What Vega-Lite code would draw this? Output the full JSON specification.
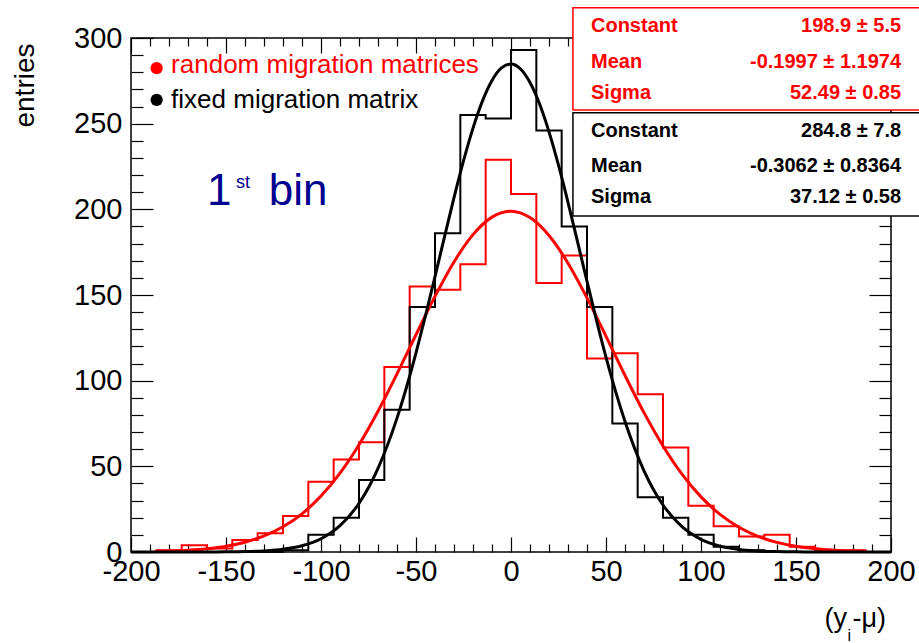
{
  "$schema": "https://vega.github.io/schema/vega-lite/v6.json",
  "width": 760,
  "height": 514,
  "autosize": {"type": "none"},
  "padding": {"left": 131, "top": 38, "right": 28, "bottom": 91},
  "background": "white",
  "config": {
    "view": {"stroke": "black", "strokeWidth": 1.5},
    "font": "Liberation Sans",
    "axis": {"domain": false, "grid": false, "tickColor": "black", "tickWidth": 1.2, "labelColor": "black", "labelFont": "Liberation Sans", "titleFont": "Liberation Sans", "titleColor": "black", "titleFontWeight": "normal", "labelFlush": false, "labelOverlap": false, "labelBound": false}
  },
  "datasets": {
    "red_hist": [
      {"bin_low": -200, "entries": 0}, {"bin_low": -186.667, "entries": 1}, {"bin_low": -173.333, "entries": 4}, {"bin_low": -160, "entries": 2},
      {"bin_low": -146.667, "entries": 7}, {"bin_low": -133.333, "entries": 11}, {"bin_low": -120, "entries": 21}, {"bin_low": -106.667, "entries": 41},
      {"bin_low": -93.333, "entries": 54}, {"bin_low": -80, "entries": 64}, {"bin_low": -66.667, "entries": 108}, {"bin_low": -53.333, "entries": 155},
      {"bin_low": -40, "entries": 153}, {"bin_low": -26.667, "entries": 168}, {"bin_low": -13.333, "entries": 229}, {"bin_low": 0, "entries": 209},
      {"bin_low": 13.333, "entries": 157}, {"bin_low": 26.667, "entries": 173}, {"bin_low": 40, "entries": 113}, {"bin_low": 53.333, "entries": 116},
      {"bin_low": 66.667, "entries": 92}, {"bin_low": 80, "entries": 61}, {"bin_low": 93.333, "entries": 27}, {"bin_low": 106.667, "entries": 15},
      {"bin_low": 120, "entries": 9}, {"bin_low": 133.333, "entries": 10}, {"bin_low": 146.667, "entries": 3}, {"bin_low": 160, "entries": 1},
      {"bin_low": 173.333, "entries": 1}, {"bin_low": 186.667, "entries": 0}, {"bin_low": 200, "entries": 0}
    ],
    "black_hist": [
      {"bin_low": -200, "entries": 0}, {"bin_low": -186.667, "entries": 0}, {"bin_low": -173.333, "entries": 0}, {"bin_low": -160, "entries": 0},
      {"bin_low": -146.667, "entries": 0}, {"bin_low": -133.333, "entries": 0}, {"bin_low": -120, "entries": 1}, {"bin_low": -106.667, "entries": 10},
      {"bin_low": -93.333, "entries": 20}, {"bin_low": -80, "entries": 42}, {"bin_low": -66.667, "entries": 83}, {"bin_low": -53.333, "entries": 143},
      {"bin_low": -40, "entries": 186}, {"bin_low": -26.667, "entries": 255}, {"bin_low": -13.333, "entries": 253}, {"bin_low": 0, "entries": 293},
      {"bin_low": 13.333, "entries": 246}, {"bin_low": 26.667, "entries": 190}, {"bin_low": 40, "entries": 143}, {"bin_low": 53.333, "entries": 75},
      {"bin_low": 66.667, "entries": 32}, {"bin_low": 80, "entries": 20}, {"bin_low": 93.333, "entries": 10}, {"bin_low": 106.667, "entries": 3},
      {"bin_low": 120, "entries": 1}, {"bin_low": 133.333, "entries": 0}, {"bin_low": 146.667, "entries": 0}, {"bin_low": 160, "entries": 0},
      {"bin_low": 173.333, "entries": 0}, {"bin_low": 186.667, "entries": 0}, {"bin_low": 200, "entries": 0}
    ],
    "red_fit": [
      {"x": -186, "f": 0.38}, {"x": -180, "f": 0.56}, {"x": -170, "f": 1.06}, {"x": -160, "f": 1.93}, {"x": -150, "f": 3.39},
      {"x": -140, "f": 5.73}, {"x": -130, "f": 9.35}, {"x": -120, "f": 14.7}, {"x": -110, "f": 22.3}, {"x": -100, "f": 32.63},
      {"x": -90, "f": 46.05}, {"x": -80, "f": 62.63}, {"x": -70, "f": 82.16}, {"x": -60, "f": 103.94}, {"x": -50, "f": 126.82},
      {"x": -40, "f": 149.19}, {"x": -30, "f": 169.29}, {"x": -20, "f": 185.24}, {"x": -10, "f": 195.46}, {"x": 0, "f": 198.9},
      {"x": 10, "f": 195.18}, {"x": 20, "f": 184.71}, {"x": 30, "f": 168.57}, {"x": 40, "f": 148.33}, {"x": 50, "f": 125.9},
      {"x": 60, "f": 103.05}, {"x": 70, "f": 81.33}, {"x": 80, "f": 61.9}, {"x": 90, "f": 45.43}, {"x": 100, "f": 32.16},
      {"x": 110, "f": 21.96}, {"x": 120, "f": 14.45}, {"x": 130, "f": 9.17}, {"x": 140, "f": 5.62}, {"x": 150, "f": 3.32},
      {"x": 160, "f": 1.89}, {"x": 170, "f": 1.04}, {"x": 180, "f": 0.55}, {"x": 186, "f": 0.37}
    ],
    "black_fit": [
      {"x": -200, "f": 0}, {"x": -180, "f": 0}, {"x": -160, "f": 0.03}, {"x": -150, "f": 0.08}, {"x": -140, "f": 0.24},
      {"x": -130, "f": 0.64}, {"x": -120, "f": 1.57}, {"x": -110, "f": 3.61}, {"x": -100, "f": 7.73}, {"x": -90, "f": 15.36},
      {"x": -80, "f": 28.41}, {"x": -70, "f": 48.85}, {"x": -60, "f": 78.15}, {"x": -55, "f": 96.18}, {"x": -50, "f": 116.23},
      {"x": -45, "f": 137.93}, {"x": -40, "f": 160.77}, {"x": -35, "f": 183.98}, {"x": -30, "f": 206.8}, {"x": -25, "f": 228.24},
      {"x": -20, "f": 247.4}, {"x": -15, "f": 263.32}, {"x": -10, "f": 275.24}, {"x": -5, "f": 282.53}, {"x": 0, "f": 284.79},
      {"x": 5, "f": 281.91}, {"x": 10, "f": 274.04}, {"x": 15, "f": 261.61}, {"x": 20, "f": 245.24}, {"x": 25, "f": 225.76},
      {"x": 30, "f": 204.11}, {"x": 35, "f": 181.19}, {"x": 40, "f": 157.98}, {"x": 45, "f": 135.25}, {"x": 50, "f": 113.72},
      {"x": 55, "f": 93.9}, {"x": 60, "f": 76.13}, {"x": 70, "f": 47.39}, {"x": 80, "f": 27.43}, {"x": 90, "f": 14.78},
      {"x": 100, "f": 7.4}, {"x": 110, "f": 3.45}, {"x": 120, "f": 1.49}, {"x": 130, "f": 0.6}, {"x": 140, "f": 0.23},
      {"x": 150, "f": 0.08}, {"x": 160, "f": 0.03}, {"x": 180, "f": 0}, {"x": 200, "f": 0}
    ]
  },
  "resolve": {"axis": {"x": "independent", "y": "independent"}},
  "layer": [
    {
      "data": {"name": "red_hist"},
      "mark": {"type": "line", "interpolate": "step-after", "color": "#ff0000", "strokeWidth": 2},
      "encoding": {
        "x": {"field": "bin_low", "type": "quantitative", "scale": {"domain": [-200, 200], "nice": false, "zero": false},
          "axis": {"orient": "bottom", "values": [-200, -150, -100, -50, 0, 50, 100, 150, 200], "tickSize": -15, "labelPadding": 20, "labelFontSize": 29, "labelExpr": "'' + datum.value",
            "title": "(y", "titleFontSize": 27, "titleX": 693, "titleY": 74, "titleAlign": "left", "titleBaseline": "alphabetic", "titleAngle": 0}},
        "y": {"field": "entries", "type": "quantitative", "scale": {"domain": [0, 300], "nice": false, "zero": false},
          "axis": {"orient": "left", "values": [0, 50, 100, 150, 200, 250, 300], "tickSize": -22, "labelPadding": 31, "labelFontSize": 29, "labelExpr": "'' + datum.value",
            "title": "entries", "titleFontSize": 28, "titleX": -98, "titleY": 5, "titleAlign": "right", "titleBaseline": "alphabetic", "titleAngle": 270}}
      }
    },
    {
      "data": {"name": "black_hist"},
      "mark": {"type": "line", "interpolate": "step-after", "color": "black", "strokeWidth": 2},
      "encoding": {
        "x": {"field": "bin_low", "type": "quantitative",
          "axis": {"orient": "bottom", "values": [-190, -180, -170, -160, -140, -130, -120, -110, -90, -80, -70, -60, -40, -30, -20, -10, 10, 20, 30, 40, 60, 70, 80, 90, 110, 120, 130, 140, 160, 170, 180, 190], "tickSize": -8, "labels": false,
            "title": "i", "titleFontSize": 16, "titleX": 716, "titleY": 88, "titleAlign": "left", "titleBaseline": "alphabetic", "titleAngle": 0}},
        "y": {"field": "entries", "type": "quantitative",
          "axis": {"orient": "left", "values": [10, 20, 30, 40, 60, 70, 80, 90, 110, 120, 130, 140, 160, 170, 180, 190, 210, 220, 230, 240, 260, 270, 280, 290], "tickSize": -12, "labels": false, "title": null}}
      }
    },
    {
      "data": {"name": "red_fit"},
      "mark": {"type": "line", "interpolate": "monotone", "color": "#ff0000", "strokeWidth": 3},
      "encoding": {
        "x": {"field": "x", "type": "quantitative",
          "axis": {"orient": "top", "values": [-200, -150, -100, -50, 0, 50, 100, 150, 200], "tickSize": -15, "labels": false,
            "title": "-μ)", "titleFontSize": 27, "titleX": 721, "titleY": 588, "titleAlign": "left", "titleBaseline": "alphabetic", "titleAngle": 0}},
        "y": {"field": "f", "type": "quantitative",
          "axis": {"orient": "right", "values": [0, 50, 100, 150, 200, 250, 300], "tickSize": -22, "labels": false, "title": null}}
      }
    },
    {
      "data": {"name": "black_fit"},
      "mark": {"type": "line", "interpolate": "monotone", "color": "black", "strokeWidth": 3},
      "encoding": {
        "x": {"field": "x", "type": "quantitative",
          "axis": {"orient": "top", "values": [-190, -180, -170, -160, -140, -130, -120, -110, -90, -80, -70, -60, -40, -30, -20, -10, 10, 20, 30, 40, 60, 70, 80, 90, 110, 120, 130, 140, 160, 170, 180, 190], "tickSize": -8, "labels": false, "title": null}},
        "y": {"field": "f", "type": "quantitative",
          "axis": {"orient": "right", "values": [10, 20, 30, 40, 60, 70, 80, 90, 110, 120, 130, 140, 160, 170, 180, 190, 210, 220, 230, 240, 260, 270, 280, 290], "tickSize": -12, "labels": false, "title": null}}
      }
    },
    {
      "data": {"values": [{"fit": "random migration matrices", "constant": "198.9 ± 5.5", "mean": "-0.1997 ± 1.1974", "sigma": "52.49 ± 0.85"}]},
      "layer": [
        {"mark": {"type": "rect", "fill": "white", "stroke": "#ff0000", "strokeWidth": 1.5},
          "encoding": {"x": {"datum": 32.6, "axis": null}, "x2": {"datum": 222}, "y": {"datum": 317.6, "axis": null}, "y2": {"datum": 258.0}}},
        {"mark": {"type": "text", "align": "left", "baseline": "alphabetic", "fontSize": 20, "fontWeight": "bold", "color": "#ff0000", "text": "Constant"},
          "encoding": {"x": {"datum": 42.1, "axis": null}, "y": {"datum": 303.6, "axis": null}}},
        {"mark": {"type": "text", "align": "left", "baseline": "alphabetic", "fontSize": 20, "fontWeight": "bold", "color": "#ff0000", "text": "Mean"},
          "encoding": {"x": {"datum": 42.1, "axis": null}, "y": {"datum": 282.5, "axis": null}}},
        {"mark": {"type": "text", "align": "left", "baseline": "alphabetic", "fontSize": 20, "fontWeight": "bold", "color": "#ff0000", "text": "Sigma"},
          "encoding": {"x": {"datum": 42.1, "axis": null}, "y": {"datum": 264.4, "axis": null}}},
        {"mark": {"type": "text", "align": "right", "baseline": "alphabetic", "fontSize": 20, "fontWeight": "bold", "color": "#ff0000"},
          "encoding": {"x": {"datum": 205.3, "axis": null}, "y": {"datum": 303.6, "axis": null}, "text": {"field": "constant"}}},
        {"mark": {"type": "text", "align": "right", "baseline": "alphabetic", "fontSize": 20, "fontWeight": "bold", "color": "#ff0000"},
          "encoding": {"x": {"datum": 205.3, "axis": null}, "y": {"datum": 282.5, "axis": null}, "text": {"field": "mean"}}},
        {"mark": {"type": "text", "align": "right", "baseline": "alphabetic", "fontSize": 20, "fontWeight": "bold", "color": "#ff0000"},
          "encoding": {"x": {"datum": 205.3, "axis": null}, "y": {"datum": 264.4, "axis": null}, "text": {"field": "sigma"}}}
      ]
    },
    {
      "data": {"values": [{"fit": "fixed migration matrix", "constant": "284.8 ± 7.8", "mean": "-0.3062 ± 0.8364", "sigma": "37.12 ± 0.58"}]},
      "layer": [
        {"mark": {"type": "rect", "fill": "white", "stroke": "black", "strokeWidth": 1.5},
          "encoding": {"x": {"datum": 32.6, "axis": null}, "x2": {"datum": 222}, "y": {"datum": 256.3, "axis": null}, "y2": {"datum": 196.1}}},
        {"mark": {"type": "text", "align": "left", "baseline": "alphabetic", "fontSize": 20, "fontWeight": "bold", "color": "black", "text": "Constant"},
          "encoding": {"x": {"datum": 42.1, "axis": null}, "y": {"datum": 242.3, "axis": null}}},
        {"mark": {"type": "text", "align": "left", "baseline": "alphabetic", "fontSize": 20, "fontWeight": "bold", "color": "black", "text": "Mean"},
          "encoding": {"x": {"datum": 42.1, "axis": null}, "y": {"datum": 221.8, "axis": null}}},
        {"mark": {"type": "text", "align": "left", "baseline": "alphabetic", "fontSize": 20, "fontWeight": "bold", "color": "black", "text": "Sigma"},
          "encoding": {"x": {"datum": 42.1, "axis": null}, "y": {"datum": 203.7, "axis": null}}},
        {"mark": {"type": "text", "align": "right", "baseline": "alphabetic", "fontSize": 20, "fontWeight": "bold", "color": "black"},
          "encoding": {"x": {"datum": 205.3, "axis": null}, "y": {"datum": 242.3, "axis": null}, "text": {"field": "constant"}}},
        {"mark": {"type": "text", "align": "right", "baseline": "alphabetic", "fontSize": 20, "fontWeight": "bold", "color": "black"},
          "encoding": {"x": {"datum": 205.3, "axis": null}, "y": {"datum": 221.8, "axis": null}, "text": {"field": "mean"}}},
        {"mark": {"type": "text", "align": "right", "baseline": "alphabetic", "fontSize": 20, "fontWeight": "bold", "color": "black"},
          "encoding": {"x": {"datum": 205.3, "axis": null}, "y": {"datum": 203.7, "axis": null}, "text": {"field": "sigma"}}}
      ]
    },
    {
      "data": {"values": [{"label": "random migration matrices"}]},
      "layer": [
        {"mark": {"type": "point", "filled": true, "size": 150, "color": "#ff0000", "opacity": 1},
          "encoding": {"x": {"datum": -186.5, "axis": null}, "y": {"datum": 282.4, "axis": null}}},
        {"mark": {"type": "text", "align": "left", "baseline": "alphabetic", "fontSize": 26, "color": "#ff0000"},
          "encoding": {"x": {"datum": -178.9, "axis": null}, "y": {"datum": 279.3, "axis": null}, "text": {"field": "label"}}}
      ]
    },
    {
      "data": {"values": [{"label": "fixed migration matrix"}]},
      "layer": [
        {"mark": {"type": "point", "filled": true, "size": 150, "color": "black", "opacity": 1},
          "encoding": {"x": {"datum": -186.5, "axis": null}, "y": {"datum": 263.9, "axis": null}}},
        {"mark": {"type": "text", "align": "left", "baseline": "alphabetic", "fontSize": 26, "color": "black"},
          "encoding": {"x": {"datum": -178.9, "axis": null}, "y": {"datum": 259.0, "axis": null}, "text": {"field": "label"}}}
      ]
    },
    {
      "data": {"values": [{"bin": "1", "ordinal": "st", "word": "bin"}]},
      "layer": [
        {"mark": {"type": "text", "align": "left", "baseline": "alphabetic", "fontSize": 44, "color": "#000090"},
          "encoding": {"x": {"datum": -160, "axis": null}, "y": {"datum": 202.6, "axis": null}, "text": {"field": "bin"}}},
        {"mark": {"type": "text", "align": "left", "baseline": "alphabetic", "fontSize": 18, "color": "#000090"},
          "encoding": {"x": {"datum": -144.7, "axis": null}, "y": {"datum": 212.5, "axis": null}, "text": {"field": "ordinal"}}},
        {"mark": {"type": "text", "align": "left", "baseline": "alphabetic", "fontSize": 44, "color": "#000090"},
          "encoding": {"x": {"datum": -127.5, "axis": null}, "y": {"datum": 202.6, "axis": null}, "text": {"field": "word"}}}
      ]
    }
  ]
}
